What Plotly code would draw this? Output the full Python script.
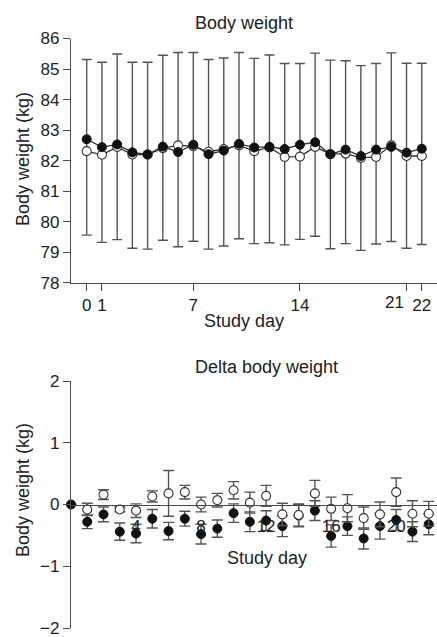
import plotly.graph_objects as go

# ---------------- data ----------------
days = list(range(23))

# Top panel: body weight (kg)
bw_filled = [82.70, 82.44, 82.53, 82.27, 82.20, 82.46, 82.28, 82.52, 82.21, 82.33, 82.55, 82.43,
             82.45, 82.38, 82.52, 82.60, 82.21, 82.36, 82.15, 82.36, 82.45, 82.26, 82.39]
bw_open = [82.31, 82.19, 82.45, 82.20, 82.20, 82.41, 82.50, 82.47, 82.29, 82.38, 82.50, 82.31,
           82.43, 82.12, 82.13, 82.45, 82.21, 82.23, 82.09, 82.12, 82.50, 82.15, 82.15]
bw_upper = [85.31, 85.22, 85.49, 85.22, 85.22, 85.45, 85.54, 85.54, 85.31, 85.36, 85.54, 85.35,
            85.46, 85.18, 85.18, 85.52, 85.29, 85.27, 85.11, 85.18, 85.53, 85.19, 85.19]
bw_lower = [79.56, 79.32, 79.41, 79.13, 79.10, 79.39, 79.18, 79.36, 79.10, 79.20, 79.44, 79.28,
            79.31, 79.24, 79.42, 79.52, 79.11, 79.28, 79.06, 79.27, 79.35, 79.13, 79.25]

# Bottom panel: delta body weight (kg)
dbw_filled = [0.00, -0.28, -0.16, -0.44, -0.47, -0.23, -0.43, -0.23, -0.48, -0.39, -0.14, -0.28,
              -0.26, -0.35, -0.18, -0.10, -0.51, -0.35, -0.55, -0.35, -0.25, -0.44, -0.32]
dbw_filled_err = [0.00, 0.11, 0.12, 0.14, 0.15, 0.15, 0.14, 0.12, 0.16, 0.14, 0.15, 0.16,
                  0.16, 0.17, 0.18, 0.16, 0.18, 0.15, 0.17, 0.21, 0.17, 0.16, 0.17]
dbw_open = [None, -0.08, 0.16, -0.08, -0.10, 0.13, 0.18, 0.20, 0.00, 0.07, 0.23, 0.03,
            0.14, -0.16, -0.17, 0.18, -0.07, -0.06, -0.22, -0.16, 0.20, -0.15, -0.15]
dbw_open_err = [0.00, 0.10, 0.08, 0.04, 0.11, 0.09, 0.37, 0.11, 0.12, 0.11, 0.14, 0.17,
                0.17, 0.18, 0.18, 0.21, 0.19, 0.22, 0.18, 0.20, 0.23, 0.21, 0.20]

top_xticks = [0, 1, 7, 14, 21, 22]
top_xticktext = ["0", "1", "7", "14", "", "22"]   # "21" drawn just left of its tick below
top_yticks = [78, 79, 80, 81, 82, 83, 84, 85, 86]
bot_xticks = [4, 8, 12, 16, 20]
bot_yticks = [-2, -1, 0, 1, 2]
bot_yticktext = ["\u22122", "\u22121", "0", "1", "2"]

# ---------------- style ----------------
FONT = "Liberation Sans, Arial, sans-serif"
TXT = "#222222"
AX = "#4a4a4a"
W, H = 437, 637
L = 71

def py(pix):
    return (H - pix) / H

fig = go.Figure()

err_plus = [u - m for u, m in zip(bw_upper, bw_open)]
err_minus = [m - l for m, l in zip(bw_open, bw_lower)]

fig.add_trace(go.Scatter(
    x=days, y=bw_open, mode="lines+markers", xaxis="x", yaxis="y",
    line=dict(color="#333333", width=1.3),
    marker=dict(symbol="circle", size=9, color="white", line=dict(color="#333333", width=1.1)),
    error_y=dict(type="data", symmetric=False, array=err_plus, arrayminus=err_minus,
                 color="#555555", thickness=1.4, width=5),
    cliponaxis=False, showlegend=False))
fig.add_trace(go.Scatter(
    x=days, y=bw_filled, mode="lines+markers", xaxis="x", yaxis="y",
    line=dict(color="#333333", width=1.3),
    marker=dict(symbol="circle", size=9, color="#111111", line=dict(color="#111111", width=1)),
    cliponaxis=False, showlegend=False))

fig.add_trace(go.Scatter(
    x=days, y=dbw_filled, mode="markers", xaxis="x2", yaxis="y2",
    marker=dict(symbol="circle", size=9, color="#111111", line=dict(color="#111111", width=1)),
    error_y=dict(type="data", array=dbw_filled_err, color="#555555", thickness=1.4, width=5.5),
    cliponaxis=False, showlegend=False))
fig.add_trace(go.Scatter(
    x=days, y=dbw_open, mode="markers", xaxis="x2", yaxis="y2",
    marker=dict(symbol="circle", size=9, color="white", line=dict(color="#333333", width=1.1)),
    error_y=dict(type="data", array=dbw_open_err, color="#555555", thickness=1.4, width=5.5),
    cliponaxis=False, showlegend=False))

axis_common = dict(showgrid=False, zeroline=False, showline=True, linecolor=AX, linewidth=1.3,
                   ticks="outside", tickcolor=AX, tickwidth=1.3, tickangle=0, automargin=False,
                   ticklabeloverflow="allow",
                   tickfont=dict(family=FONT, size=17, color=TXT))

fig.update_layout(
    width=W, height=H,
    margin=dict(l=L, r=0, t=0, b=0, pad=0),
    paper_bgcolor="white", plot_bgcolor="white",
    xaxis=dict(domain=[0, 1], anchor="y", range=[-1.03, 23.0], tickvals=top_xticks,
               ticktext=top_xticktext, ticklen=7, **axis_common),
    yaxis=dict(domain=[py(282.7), py(38.5)], anchor="x", range=[78, 86], tickvals=top_yticks,
               ticklen=7, **axis_common),
    xaxis2=dict(domain=[0, 1], anchor="free", position=py(504.5), range=[0, 22.51],
                tickvals=bot_xticks, ticklen=6,
                **{**axis_common, "tickcolor": "rgba(0,0,0,0)"}),
    yaxis2=dict(domain=[py(628), py(381)], anchor="x2", range=[-2, 2], tickvals=bot_yticks,
                ticktext=bot_yticktext, ticklen=7, **axis_common),
)

# tick label "21" for the top axis, nudged left of its tick so it clears "22"
fig.add_annotation(text="21", x=21, y=py(302), xref="x", yref="paper", xshift=-12,
                   xanchor="center", yanchor="middle", showarrow=False,
                   font=dict(family=FONT, size=17, color=TXT))

def annp(text, xpix, ypix, angle=0, size=18):
    fig.add_annotation(text=text, x=(xpix - L) / (W - L), y=py(ypix), xref="paper", yref="paper",
                       xanchor="center", yanchor="middle", showarrow=False, textangle=angle,
                       font=dict(family=FONT, size=size, color=TXT))

annp("Body weight", 244.3, 23)
annp("Study day", 244.2, 321)
annp("Delta body weight", 266.7, 367)
annp("Study day", 266.7, 558)
annp("Body weight (kg)", 23, 159, angle=-90)
annp("Body weight (kg)", 23, 490, angle=-90)

fig.write_html("out.html", config={"displayModeBar": False},
               post_script="document.body.style.margin='0px';document.body.style.overflow='hidden';")
